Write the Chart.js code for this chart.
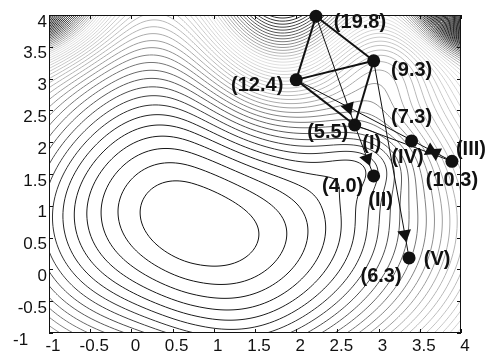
<!DOCTYPE html>
<html>
<head>
<meta charset="utf-8">
<script src="https://cdn.jsdelivr.net/npm/chart.js@4.4.0/dist/chart.umd.min.js"></script>
<style>
  html, body { margin: 0; padding: 0; background: #fff; }
  #wrap { width: 487px; height: 352px; }
</style>
</head>
<body>
<div id="wrap"><canvas id="simplexChart" width="487" height="352"></canvas></div>
<script>
// simplex vertices, with their objective values
const vertexX = [2.24, 2.94, 2.00, 2.71, 3.40, 3.89, 2.94, 3.37];
const vertexY = [3.98, 3.28, 2.98, 2.27, 2.02, 1.70, 1.47, 0.18];
const vertexValue = ['(19.8)', '(9.3)', '(12.4)', '(5.5)', '(7.3)', '(10.3)', '(4.0)', '(6.3)'];

// step names and the vertex each one belongs to
const stepName = ['(I)', '(II)', '(III)', '(IV)', '(V)'];
const stepVertex = [3, 6, 5, 4, 7];

// simplex edges (vertex index pairs)
const thickEdges = [[0, 2], [0, 1], [2, 1], [1, 3], [2, 3]];
const thinEdges = [[0, 3], [3, 6], [1, 7], [2, 5], [3, 5]];

// arrowheads: from vertex, to vertex, fraction along the edge
const arrowFrom = [0, 3, 1, 4, 5];
const arrowTo = [3, 6, 7, 5, 4];
const arrowAt = [0.84, 0.66, 0.88, 0.47, 0.41];

const tickValues = [-1, -0.5, 0, 0.5, 1, 1.5, 2, 2.5, 3, 3.5, 4];

// background surface: bowl centre plus gaussian bumps (+) and dips (-)
const bowlCentre = [0.75, 0.75];
const bumpX = [1.8, -1.4, 4.3, 2.9, 3.1];
const bumpY = [4.7, 4.4, 4.3, 1.7, 3.3];
const bumpAmp = [14, 22, 30, -1.5, -2.5];
const bumpWx = [0.6, 0.6, 0.45, 0.4, 0.5];
const bumpWy = [1.2, 0.6, 0.45, 0.35, 0.5];
const levelStep = 0.5;
const colourTop = 22;

const family = '"Liberation Sans", Arial, Helvetica, sans-serif';

// offsets of the text labels from their vertex, in pixels
const valueShift = [[44, 6], [38, 10], [-39, 6], [-27, 7], [0, -23], [0, 19], [-31, 11], [-28, 19]];
const stepShift = [[17, 18], [7, 25], [19, -12], [-4, 17], [28, 2]];

function surface(x, y) {
  const u = x - bowlCentre[0], v = y - bowlCentre[1];
  const fx = u < 0 ? 1.2 * u * u : 0.7 * u * u + 0.04 * u * u * u;
  const vt = v + 0.3 * u * Math.exp(-u * u / 1.5);
  const fy = vt < 0 ? 1.15 * vt * vt : 8.6 * (Math.sqrt(1 + 1.25 * vt * vt / 4.3) - 1);
  let f = fx + fy;
  for (let k = 0; k < bumpX.length; k++) {
    const dx = (x - bumpX[k]) / bumpWx[k], dy = (y - bumpY[k]) / bumpWy[k];
    f += bumpAmp[k] * Math.exp(-0.5 * (dx * dx + dy * dy));
  }
  return f;
}

// jet colour map seen in grey
function jetGray(t) {
  const c = v => Math.max(0, Math.min(1, v));
  t = c(t);
  const r = c(Math.min(4 * t - 1.5, -4 * t + 4.5));
  const g = c(Math.min(4 * t - 0.5, -4 * t + 3.5));
  const b = c(Math.min(4 * t + 0.5, -4 * t + 2.5));
  const l = Math.round(255 * (0.299 * r + 0.587 * g + 0.114 * b));
  return `rgb(${l},${l},${l})`;
}

function drawContours(chart) {
  const { ctx, chartArea: a, scales: { x: sx, y: sy } } = chart;
  const step = 2;
  const px = [], py = [];
  for (let p = a.left; p < a.right; p += step) px.push(p);
  px.push(a.right);
  for (let p = a.top; p < a.bottom; p += step) py.push(p);
  py.push(a.bottom);
  const nx = px.length, ny = py.length;
  const z = new Float64Array(nx * ny);
  let zmax = -Infinity;
  for (let j = 0; j < ny; j++) {
    const yv = sy.getValueForPixel(py[j]);
    for (let i = 0; i < nx; i++) {
      const v = surface(sx.getValueForPixel(px[i]), yv);
      z[j * nx + i] = v;
      if (v > zmax) zmax = v;
    }
  }
  ctx.save();
  ctx.beginPath();
  ctx.rect(a.left, a.top, a.right - a.left, a.bottom - a.top);
  ctx.clip();
  ctx.lineWidth = 1;
  const cross = (pa, pb, za, zb, lev) => pa + (pb - pa) * (lev - za) / (zb - za);
  for (let lev = levelStep; lev < zmax; lev += levelStep) {
    ctx.strokeStyle = jetGray(lev / colourTop);
    ctx.beginPath();
    for (let j = 0; j < ny - 1; j++) {
      for (let i = 0; i < nx - 1; i++) {
        const z0 = z[j * nx + i], z1 = z[j * nx + i + 1];
        const z2 = z[(j + 1) * nx + i + 1], z3 = z[(j + 1) * nx + i];
        const above = (z0 > lev) + (z1 > lev) + (z2 > lev) + (z3 > lev);
        if (above === 0 || above === 4) continue;
        const x0 = px[i], x1 = px[i + 1], y0 = py[j], y1 = py[j + 1];
        const pts = [];
        if ((z0 > lev) !== (z1 > lev)) pts.push([cross(x0, x1, z0, z1, lev), y0]);
        if ((z1 > lev) !== (z2 > lev)) pts.push([x1, cross(y0, y1, z1, z2, lev)]);
        if ((z3 > lev) !== (z2 > lev)) pts.push([cross(x0, x1, z3, z2, lev), y1]);
        if ((z0 > lev) !== (z3 > lev)) pts.push([x0, cross(y0, y1, z0, z3, lev)]);
        if (pts.length === 2) {
          ctx.moveTo(pts[0][0], pts[0][1]); ctx.lineTo(pts[1][0], pts[1][1]);
        } else if (pts.length === 4) {
          ctx.moveTo(pts[0][0], pts[0][1]); ctx.lineTo(pts[3][0], pts[3][1]);
          ctx.moveTo(pts[1][0], pts[1][1]); ctx.lineTo(pts[2][0], pts[2][1]);
        }
      }
    }
    ctx.stroke();
  }
  ctx.restore();
}

function drawFrame(chart) {
  const { ctx, chartArea: a, scales: { x: sx, y: sy } } = chart;
  ctx.save();
  ctx.strokeStyle = '#111';
  ctx.lineWidth = 1;
  ctx.strokeRect(a.left + 0.5, a.top + 0.5, a.right - a.left - 1, a.bottom - a.top - 1);
  ctx.beginPath();
  tickValues.forEach(v => {
    const tx = Math.round(sx.getPixelForValue(v)) + 0.5;
    ctx.moveTo(tx, a.bottom); ctx.lineTo(tx, a.bottom - 4);
    ctx.moveTo(tx, a.top); ctx.lineTo(tx, a.top + 4);
    const ty = Math.round(sy.getPixelForValue(v)) + 0.5;
    ctx.moveTo(a.left, ty); ctx.lineTo(a.left + 4, ty);
    ctx.moveTo(a.right, ty); ctx.lineTo(a.right - 4, ty);
  });
  ctx.stroke();
  ctx.restore();
}

function drawLabels(chart) {
  const { ctx, scales: { x: sx, y: sy } } = chart;
  ctx.save();
  ctx.fillStyle = '#111';
  ctx.font = 'bold 20px ' + family;
  ctx.textAlign = 'center';
  ctx.textBaseline = 'middle';
  vertexValue.forEach((t, i) => {
    ctx.fillText(t, sx.getPixelForValue(vertexX[i]) + valueShift[i][0], sy.getPixelForValue(vertexY[i]) + valueShift[i][1]);
  });
  stepName.forEach((t, i) => {
    const k = stepVertex[i];
    ctx.fillText(t, sx.getPixelForValue(vertexX[k]) + stepShift[i][0], sy.getPixelForValue(vertexY[k]) + stepShift[i][1]);
  });
  ctx.restore();
}

const surfacePlugin = {
  id: 'surface',
  beforeDatasetsDraw(chart) {
    drawContours(chart);
    drawFrame(chart);
  },
  afterDatasetsDraw(chart) {
    drawLabels(chart);
  }
};

function edgeSet(edges, width) {
  return edges.map(([p, q]) => ({
    type: 'scatter',
    data: [{ x: vertexX[p], y: vertexY[p] }, { x: vertexX[q], y: vertexY[q] }],
    showLine: true,
    borderColor: '#111',
    borderWidth: width,
    pointRadius: 0,
    clip: false
  }));
}

const arrowPoints = arrowAt.map((t, i) => ({
  x: vertexX[arrowFrom[i]] + t * (vertexX[arrowTo[i]] - vertexX[arrowFrom[i]]),
  y: vertexY[arrowFrom[i]] + t * (vertexY[arrowTo[i]] - vertexY[arrowFrom[i]])
}));

Chart.defaults.font.family = family;

new Chart(document.getElementById('simplexChart'), {
  type: 'scatter',
  data: {
    datasets: [
      ...edgeSet(thinEdges, 1),
      ...edgeSet(thickEdges, 2),
      {
        data: arrowPoints,
        pointStyle: 'triangle',
        pointRadius: 8,
        backgroundColor: '#111',
        borderColor: '#111',
        borderWidth: 0,
        rotation: c => {
          const i = c.dataIndex, sx = c.chart.scales.x, sy = c.chart.scales.y;
          const dx = sx.getPixelForValue(vertexX[arrowTo[i]]) - sx.getPixelForValue(vertexX[arrowFrom[i]]);
          const dy = sy.getPixelForValue(vertexY[arrowTo[i]]) - sy.getPixelForValue(vertexY[arrowFrom[i]]);
          return Math.atan2(dx, -dy) * 180 / Math.PI;
        },
        clip: false
      },
      {
        data: vertexX.map((x, i) => ({ x, y: vertexY[i] })),
        pointRadius: 6.5,
        pointHoverRadius: 6.5,
        backgroundColor: '#111',
        borderWidth: 0,
        clip: false
      }
    ]
  },
  options: {
    responsive: false,
    animation: false,
    events: [],
    layout: { padding: { top: 15, right: 26, left: 0, bottom: 0 } },
    plugins: { legend: { display: false }, tooltip: { enabled: false } },
    scales: {
      x: {
        type: 'linear', min: -1, max: 4,
        afterBuildTicks: s => { s.ticks = tickValues.map(value => ({ value })); },
        afterFit: s => { s.height = 19; },
        grid: { display: false, drawTicks: false },
        border: { display: false },
        ticks: { color: '#111', font: { size: 17 }, padding: 3, labelOffset: 4, maxRotation: 0, autoSkip: false, callback: v => String(v) }
      },
      y: {
        type: 'linear', min: -1, max: 4,
        afterBuildTicks: s => { s.ticks = tickValues.map(value => ({ value })); },
        afterFit: s => { s.width = 49; },
        grid: { display: false, drawTicks: false },
        border: { display: false },
        ticks: { color: '#111', font: { size: 17 }, padding: 2, labelOffset: 7, autoSkip: false, callback: v => (v === -1 ? '-1    ' : String(v)) }
      }
    }
  },
  plugins: [surfacePlugin]
});
</script>
</body>
</html>
